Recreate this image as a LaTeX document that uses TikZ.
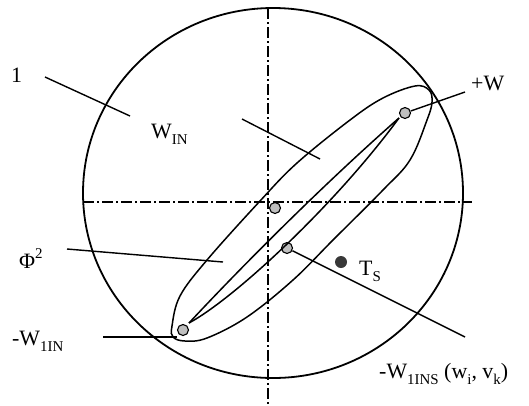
\documentclass[tikz,border=0pt]{standalone}
\usepackage{fontspec}
\setmainfont{Liberation Serif}
\newcommand\sbs[1]{\raisebox{-0.28em}{\fontsize{15}{15}\selectfont #1}}
\newcommand\sps[1]{\raisebox{0.42em}{\fontsize{15}{15}\selectfont #1}}
\tikzset{
  axisline/.style={line width=1.3bp, dash pattern=on 11bp off 3bp on 2bp off 3bp},
  curveline/.style={line width=1.5bp},
  leader/.style={line width=1.4bp},
  gdot/.style={circle, draw, line width=1.1bp, fill=gray!50, minimum size=11bp, inner sep=0pt},
  ddot/.style={circle, fill=black!78, minimum size=12bp, inner sep=0pt},
  lbl/.style={font=\fontsize{22}{24}\selectfont, inner sep=0pt, anchor=base west}
}
\begin{document}
\begin{tikzpicture}[x=1bp,y=-1bp]
\useasboundingbox (0,0) rectangle (529,405);
% big circle
\draw[line width=1.8bp] (273,193) ellipse [x radius=190bp, y radius=185bp];
% axes
\coordinate (vt) at (268,8);
\coordinate (vb) at (268,405);
\coordinate (hl) at (83,202);
\coordinate (hr) at (472,202);
\draw[axisline] (vt) -- (vb);
\draw[axisline] (hl) -- (hr);
% outer egg-shaped region
\draw[curveline] plot[smooth cycle, tension=0.6] coordinates {
 (172,326) (180,296) (207,260) (260,201) (297,163) (350,120) (383,98)
 (415,86) (429,90) (432,102) (427,120) (410,160) (383,190) (333,240)
 (293,280) (247,317) (207,338) (185,341) (173,337)};
% dots
\node[gdot] (ptop) at (405,113) {};
\node[gdot] (pbot) at (183,330) {};
\node[gdot] (pcen) at (275,208) {};
\node[gdot] (pmid) at (287,248) {};
\node[ddot] (pts) at (341,262) {};
% inner lens
\coordinate (lb) at (189,323);
\coordinate (lt) at (399,118);
\draw[curveline] (lb) .. controls (245,263) and (325,183) .. (lt);
\draw[curveline] (lb) .. controls (235,298) and (335,205) .. (lt);
% labels
\node[lbl] (l1) at (11,82) {1};
\node[lbl] (lwin) at (151,138) {W\sbs{IN}};
\node[lbl] (lw) at (471,90) {+W};
\node[lbl] (lphi) at (19,268) {Φ\sps{2}};
\node[lbl] (lw1in) at (12,345) {-W\sbs{1IN}};
\node[lbl] (lts) at (359,275) {T\sbs{S}};
\node[lbl] (lw1ins) at (379,378) {-W\sbs{1INS} (w\sbs{i}, v\sbs{k})};
% leaders
\coordinate (a1) at (45,77);   \coordinate (b1) at (130,116);
\coordinate (a2) at (242,119); \coordinate (b2) at (320,159);
\coordinate (b3) at (465,92);
\coordinate (a4) at (67,249);  \coordinate (b4) at (223,262);
\coordinate (a5) at (103,337); \coordinate (b5) at (177,337);
\coordinate (b6) at (465,337);
\draw[leader] (a1) -- (b1);
\draw[leader] (a2) -- (b2);
\draw[leader] (ptop) -- (b3);
\draw[leader] (a4) -- (b4);
\draw[leader] (a5) -- (b5);
\draw[leader] (pmid) -- (b6);
\end{tikzpicture}
\end{document}
